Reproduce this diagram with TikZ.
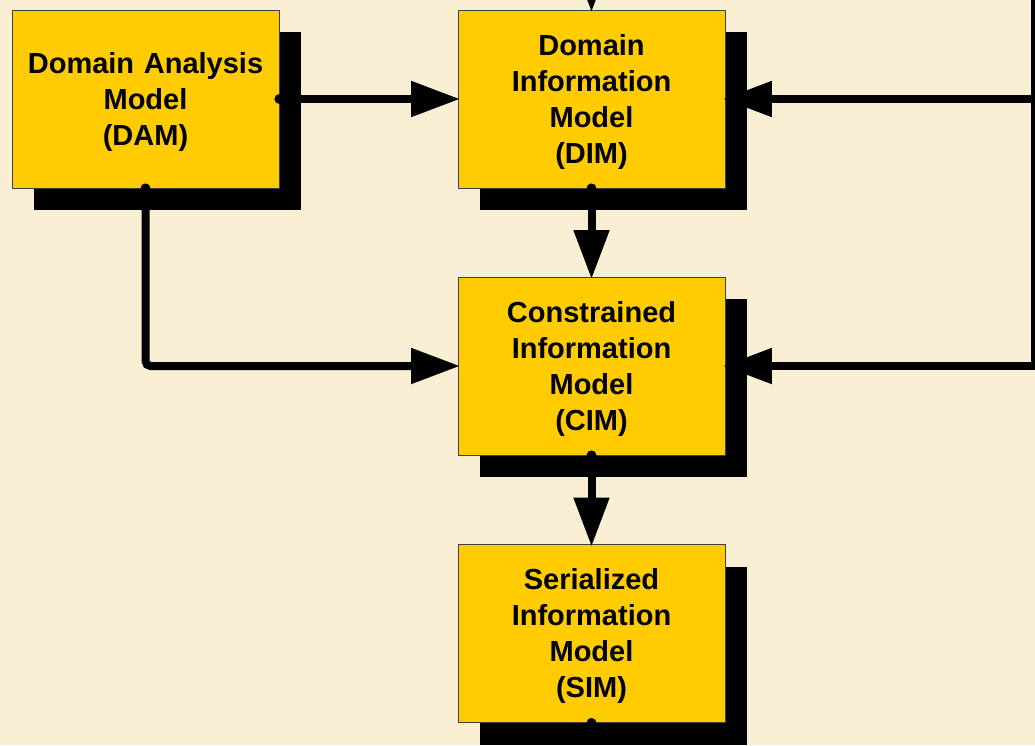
\documentclass[tikz,border=0pt]{standalone}
\usepackage{fontspec}
\setmainfont{Liberation Sans}
\usetikzlibrary{arrows.meta,shadows}
\definecolor{bg}{RGB}{250,239,212}
\definecolor{boxy}{RGB}{255,204,0}
\begin{document}
\begin{tikzpicture}[x=1pt,y=-1pt,
  model/.style={draw=black!75, line width=0.8pt, fill=boxy,
    minimum width=267pt, minimum height=178pt, inner sep=0pt,
    general shadow={fill=black, shadow xshift=22pt, shadow yshift=-22pt}},
  modeltext/.style={inner sep=0pt, align=center, text width=262pt,
    font=\fontsize{29}{36}\selectfont\bfseries},
  conn/.style={line width=8pt, draw=black, shorten >=-2.5pt,
    -{Triangle[length=49pt,width=34pt]}},
  dotend/.style={fill=black}]
\useasboundingbox (0,0) rectangle (1035,745);
\clip (0,0) rectangle (1035,745);
\fill[bg] (0,0) rectangle (1035,745);

\node[model] (dam) at (145.5,99) {};
\node[model] (dim) at (591.5,99) {};
\node[model] (cim) at (591.5,366) {};
\node[model] (sim) at (591.5,633.5) {};
\node[modeltext, yshift=-3pt] (damt) at (dam.center) {Domain Analysis\\Model\\(DAM)};
\node[modeltext, yshift=-2.5pt] (dimt) at (dim.center) {Domain\\Information\\Model\\(DIM)};
\node[modeltext, yshift=-2.5pt] (cimt) at (cim.center) {Constrained\\Information\\Model\\(CIM)};
\node[modeltext, yshift=-2.5pt] (simt) at (sim.center) {Serialized\\Information\\Model\\(SIM)};

\coordinate (topin) at (591.5,-60);
\coordinate (rtop) at (1035,-10);

\draw[conn] (dam.east) -- (dim.west);
\draw[conn, rounded corners=5pt] (dam.south) |- (cim.west);
\draw[conn] (dim.south) -- (cim.north);
\draw[conn] (cim.south) -- (sim.north);
\draw[conn] (topin) -- (dim.north);
\draw[conn] (rtop) |- (dim.east);
\draw[conn] (rtop) |- (cim.east);

\fill[dotend] (dam.east) circle (5pt);
\fill[dotend] (dam.south) circle (5pt);
\fill[dotend] (dim.south) circle (5pt);
\fill[dotend] (cim.south) circle (5pt);
\fill[dotend] (sim.south) circle (5pt);
\end{tikzpicture}
\end{document}
